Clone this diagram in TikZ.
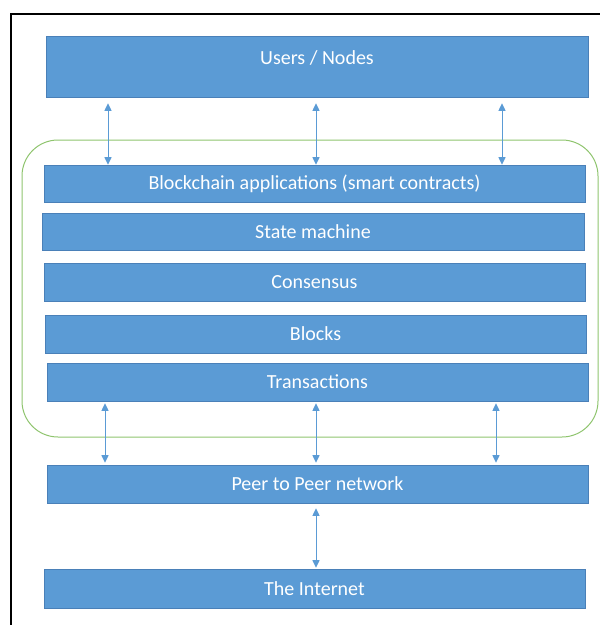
\documentclass[tikz,border=0pt]{standalone}
\usepackage{fontspec}
\setmainfont{Carlito}
\usetikzlibrary{arrows.meta}
\definecolor{boxblue}{HTML}{5B9BD5}
\definecolor{boxedge}{HTML}{4A80B8}
\definecolor{grp}{HTML}{8FC46E}
\tikzset{
  box/.style={draw=boxedge, line width=0.6pt, fill=boxblue, text=white, font=\fontsize{20}{22}\selectfont, inner sep=0pt},
  arr/.style={draw=boxblue, line width=1pt, {Triangle[length=7.5pt,width=7pt]}-{Triangle[length=7.5pt,width=7pt]}}
}
\begin{document}
\begin{tikzpicture}[x=1pt,y=-1pt]
\useasboundingbox (0,0) rectangle (600,625);
\draw[line width=2.5pt] (11,626) -- (11,14) -- (601,14);
\draw[grp, line width=1pt, rounded corners=36pt] (22,140) rectangle (598,437);
\node[box, minimum width=542, minimum height=61] (users) at (317,66.5) {\raisebox{18pt}{Users / Nodes}};
\node[box, minimum width=541, minimum height=37] (bc) at (314.5,183.5) {Blockchain applications (smart contracts)};
\node[box, minimum width=542, minimum height=37] (sm) at (313,231.5) {State machine};
\node[box, minimum width=541, minimum height=38] (cons) at (314.5,282) {Consensus};
\node[box, minimum width=541, minimum height=38] (blk) at (315.5,334) {Blocks};
\node[box, minimum width=541, minimum height=38] (tx) at (317.5,382) {Transactions};
\node[box, minimum width=541, minimum height=38] (p2p) at (317.5,484) {Peer to Peer network};
\node[box, minimum width=541, minimum height=39] (net) at (314.5,588.5) {The Internet};
\coordinate (a1) at (108,0);
\coordinate (a2) at (316,0);
\coordinate (a3) at (502,0);
\coordinate (b1) at (105,0);
\coordinate (b3) at (496,0);
\draw[arr, shorten <=6pt] (users.south -| a1) -- (bc.north -| a1);
\draw[arr, shorten <=6pt] (users.south -| a2) -- (bc.north -| a2);
\draw[arr, shorten <=6pt] (users.south -| a3) -- (bc.north -| a3);
\draw[arr, shorten <=2pt, shorten >=2pt] (tx.south -| b1) -- (p2p.north -| b1);
\draw[arr, shorten <=2pt, shorten >=2pt] (tx.south -| a2) -- (p2p.north -| a2);
\draw[arr, shorten <=2pt, shorten >=2pt] (tx.south -| b3) -- (p2p.north -| b3);
\draw[arr, shorten <=5pt, shorten >=1pt] (p2p.south -| a2) -- (net.north -| a2);
\end{tikzpicture}
\end{document}
